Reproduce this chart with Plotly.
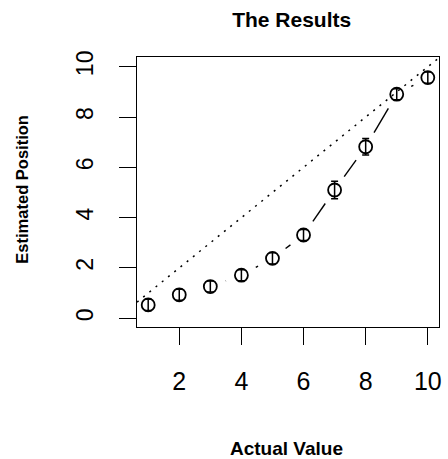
import numpy as np
import plotly.graph_objects as go

# Data
actual = [1, 2, 3, 4, 5, 6, 7, 8, 9, 10]
estimated = [0.53, 0.93, 1.26, 1.71, 2.38, 3.31, 5.10, 6.82, 8.91, 9.57]
errors = [0.22, 0.22, 0.22, 0.22, 0.22, 0.22, 0.35, 0.33, 0.22, 0.22]
x_ticks = [2, 4, 6, 8, 10]
y_ticks = [0, 2, 4, 6, 8, 10]

W, H = 448, 459
ML, MR, MT, MB = 137, 6, 57, 132
XR = [0.64, 10.36]
YR = [-0.35, 10.39]
pw, ph = W - ML - MR, H - MT - MB
sx = pw / (XR[1] - XR[0])
sy = ph / (YR[1] - YR[0])

# type="b" style connecting segments with gaps around points
gap = 16.5
seg_x, seg_y = [], []
for i in range(len(actual) - 1):
    x0, y0, x1, y1 = actual[i], estimated[i], actual[i + 1], estimated[i + 1]
    d = np.hypot((x1 - x0) * sx, (y1 - y0) * sy)
    if d > 2 * gap:
        t0, t1 = gap / d, 1 - gap / d
        seg_x += [x0 + (x1 - x0) * t0, x0 + (x1 - x0) * t1, None]
        seg_y += [y0 + (y1 - y0) * t0, y0 + (y1 - y0) * t1, None]

fig = go.Figure()
# identity reference line
fig.add_trace(go.Scatter(x=XR, y=XR, mode="lines",
                         line=dict(color="black", width=1.5, dash="2px,6px"),
                         hoverinfo="skip", showlegend=False))
fig.add_trace(go.Scatter(x=seg_x, y=seg_y, mode="lines",
                         line=dict(color="black", width=1.4),
                         hoverinfo="skip", showlegend=False))
fig.add_trace(go.Scatter(x=actual, y=estimated, mode="markers",
                         marker=dict(symbol="circle-open", size=13, color="black",
                                     line=dict(width=1.8, color="black")),
                         error_y=dict(type="data", array=errors, color="black",
                                      thickness=1.5, width=3.5),
                         showlegend=False))

fig.update_layout(
    width=W, height=H,
    margin=dict(l=ML, r=MR, t=MT, b=MB),
    paper_bgcolor="white", plot_bgcolor="white",
    font=dict(family="Liberation Sans, Arial, sans-serif", color="black"),
    title=dict(text="<b>The Results</b>", x=291.7 / W, xanchor="center",
               y=1 - 19.5 / H, yanchor="middle",
               font=dict(size=21, color="black")),
    xaxis=dict(range=XR, tickvals=x_ticks, ticktext=[str(v) for v in x_ticks],
               showgrid=False, zeroline=False, showline=True, mirror=True,
               linecolor="black", linewidth=1.3, ticks="outside", ticklen=17,
               tickwidth=1.3, tickcolor="black", tickfont=dict(size=25),
               ticklabelstandoff=15),
    yaxis=dict(range=YR, tickvals=y_ticks, ticktext=[str(v) for v in y_ticks],
               showgrid=False, zeroline=False, showline=True, mirror=True,
               linecolor="black", linewidth=1.3, ticks="outside", ticklen=17,
               tickwidth=1.3, tickcolor="black", tickfont=dict(size=23),
               tickangle=-90, ticklabelstandoff=17),
    annotations=[
        dict(text="<b>Actual Value</b>", xref="paper", yref="paper",
             x=(287.5 - ML) / pw, y=-(448 - (H - MB)) / ph,
             xanchor="center", yanchor="middle", showarrow=False,
             font=dict(size=19)),
        dict(text="<b>Estimated Position</b>", xref="paper", yref="paper",
             x=(20.5 - ML) / pw, y=((H - MB) - 189) / ph, textangle=-90,
             xanchor="center", yanchor="middle", showarrow=False,
             font=dict(size=16.5)),
    ],
)

fig.write_html("out.html")
